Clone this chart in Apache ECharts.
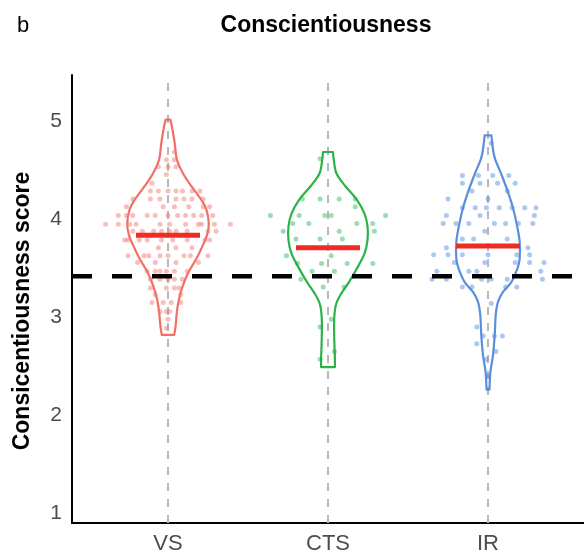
<!DOCTYPE html>
<html><head><meta charset="utf-8">
<script src="https://cdn.jsdelivr.net/npm/echarts@6/dist/echarts.min.js"></script>
<style>html,body{margin:0;padding:0;background:#fff}#c{width:584px;height:560px}</style>
</head><body><div id="c"></div>
<script>
// ---------- data ----------
const categories = ['VS', 'CTS', 'IR'];
const yTicks = [1, 2, 3, 4, 5];
const normValue = 3.42;               // black dashed reference line
const groupMeans = [3.84, 3.71, 3.73]; // red bars

// violin outlines: score levels and half-widths (in category units)
const vsViolinY = [5.02, 4.92, 4.78, 4.61, 4.47, 4.34, 4.20, 4.10, 3.96, 3.84, 3.74, 3.60, 3.47, 3.33, 3.19, 3.06, 2.92, 2.82];
const vsViolinW = [0.015, 0.028, 0.042, 0.056, 0.094, 0.146, 0.209, 0.240, 0.255, 0.244, 0.219, 0.178, 0.131, 0.094, 0.069, 0.056, 0.048, 0.039];
const ctsViolinY = [4.69, 4.61, 4.47, 4.34, 4.20, 4.06, 3.93, 3.79, 3.65, 3.50, 3.36, 3.23, 3.13, 2.99, 2.79, 2.58, 2.49];
const ctsViolinW = [0.031, 0.036, 0.053, 0.109, 0.181, 0.228, 0.247, 0.247, 0.228, 0.181, 0.131, 0.078, 0.050, 0.039, 0.039, 0.043, 0.043];
const irViolinY = [4.86, 4.76, 4.63, 4.46, 4.28, 4.12, 3.94, 3.77, 3.60, 3.50, 3.36, 3.26, 3.16, 3.02, 2.82, 2.61, 2.44, 2.26];
const irViolinW = [0.021, 0.028, 0.042, 0.084, 0.125, 0.156, 0.181, 0.198, 0.198, 0.184, 0.146, 0.094, 0.063, 0.048, 0.042, 0.031, 0.015, 0.009];

// individual scores (levels) and horizontal jitter of the points at each level
const vsLevels = [4.69, 4.61, 4.54, 4.46, 4.37, 4.29, 4.21, 4.13, 4.04, 3.95, 3.88, 3.79, 3.71, 3.63, 3.56, 3.47, 3.39, 3.30, 3.23, 3.15, 3.06, 2.98, 2.89];
const vsJitter = [
  [0.04], [-0.01, 0.04], [-0.06, 0.00, 0.05], [-0.01], [-0.10],
  [-0.11, -0.06, 0.00, 0.05, 0.09, 0.15, 0.20],
  [-0.22, -0.11, -0.05, 0.05, 0.10, 0.15, 0.22],
  [-0.26, -0.03, 0.04, 0.13, 0.22, 0.26],
  [-0.31, -0.26, -0.22, -0.13, -0.08, 0.00, 0.06, 0.11, 0.16, 0.21, 0.28],
  [-0.39, -0.31, -0.24, -0.20, -0.05, 0.01, 0.11, 0.19, 0.21, 0.29, 0.39],
  [-0.22, -0.16, -0.09, -0.04, 0.01, 0.05, 0.12, 0.25, 0.30],
  [-0.27, -0.25, -0.18, -0.13, -0.04, 0.03, 0.12, 0.23, 0.26],
  [-0.06, 0.05, 0.15],
  [-0.25, -0.15, -0.12, -0.05, 0.00, 0.10, 0.14, 0.25],
  [-0.19, -0.08, 0.05, 0.19],
  [-0.13, -0.08, -0.05, -0.01, 0.04, 0.12],
  [-0.11, -0.05, 0.00, 0.04, 0.09],
  [-0.11, -0.01, 0.04, 0.07],
  [-0.08, 0.08],
  [-0.10, -0.03, 0.02, 0.08],
  [-0.05, -0.01, 0.01],
  [0.00], [-0.01]
];
const ctsLevels = [4.62, 4.21, 4.13, 4.04, 3.96, 3.88, 3.80, 3.63, 3.55, 3.47, 3.39, 3.31, 2.98, 2.90, 2.65, 2.57];
const ctsJitter = [
  [-0.05], [-0.16, -0.05, 0.07, 0.17], [0.17],
  [-0.36, -0.18, -0.02, 0.02, 0.36],
  [-0.22, -0.12, 0.18, 0.28],
  [-0.28, 0.07, 0.29],
  [-0.20, -0.05, 0.09],
  [-0.26, 0.02],
  [-0.19, -0.04, 0.12, 0.28],
  [-0.10, 0.04], [-0.17], [-0.03, 0.10],
  [0.02], [-0.05], [0.04], [-0.05]
];
const irLevels = [4.78, 4.45, 4.37, 4.29, 4.21, 4.12, 4.04, 3.96, 3.88, 3.80, 3.71, 3.64, 3.56, 3.47, 3.39, 3.31, 3.14, 2.90, 2.81, 2.73, 2.65, 2.57, 2.40];
const irJitter = [
  [0.02],
  [-0.16, -0.06, 0.03, 0.13],
  [-0.16, -0.05, 0.06, 0.17],
  [-0.10, 0.12],
  [-0.25, 0.00],
  [-0.16, -0.08, -0.01, 0.07, 0.15, 0.23, 0.30],
  [-0.26, -0.05, 0.29],
  [-0.28, -0.20, -0.12, 0.04, 0.11, 0.19, 0.28],
  [-0.02],
  [-0.16, -0.09, 0.12],
  [-0.26, 0.25],
  [-0.34, -0.25, -0.16, 0.00, 0.18, 0.26],
  [-0.21, -0.02, 0.17, 0.26, 0.35],
  [-0.32, -0.12, -0.07, 0.33],
  [-0.35, -0.26, -0.04, 0.02, 0.12, 0.34],
  [-0.16, -0.10, 0.11, 0.18],
  [0.02], [-0.07], [-0.03, 0.04, 0.09], [-0.07], [0.05], [-0.01], [0.00]
];

// ---------- styles / layout ----------
const FONT = 'Liberation Sans, Arial, Helvetica, sans-serif';
const X_MIN = 0.4, X_MAX = 3.6, Y_MIN = 0.897, Y_MAX = 5.477;
const lineColors = ['#F26F66', '#2DB24A', '#5C8FDB'];
const pointColors = ['rgba(244,120,110,0.6)', 'rgba(20,180,70,0.55)', 'rgba(80,140,230,0.6)'];

const violins = [
  { y: vsViolinY, w: vsViolinW },
  { y: ctsViolinY, w: ctsViolinW },
  { y: irViolinY, w: irViolinW }
];
const pointSets = [[vsLevels, vsJitter], [ctsLevels, ctsJitter], [irLevels, irJitter]];

function buildPoints(g) {
  const [levels, jit] = pointSets[g];
  const out = [];
  levels.forEach((lv, i) => jit[i].forEach(j => out.push([g + 1 + j, lv])));
  return out;
}

// Catmull-Rom -> cubic bezier path segments through pixel points
function curveThrough(pts) {
  let d = '';
  for (let i = 0; i < pts.length - 1; i++) {
    const p0 = pts[Math.max(i - 1, 0)], p1 = pts[i], p2 = pts[i + 1], p3 = pts[Math.min(i + 2, pts.length - 1)];
    const c1x = p1[0] + (p2[0] - p0[0]) / 6, c1y = p1[1] + (p2[1] - p0[1]) / 6;
    const c2x = p2[0] - (p3[0] - p1[0]) / 6, c2y = p2[1] - (p3[1] - p1[1]) / 6;
    d += ` C ${c1x.toFixed(2)} ${c1y.toFixed(2)} ${c2x.toFixed(2)} ${c2y.toFixed(2)} ${p2[0].toFixed(2)} ${p2[1].toFixed(2)}`;
  }
  return d;
}

const chart = echarts.init(document.getElementById('c'), null, { renderer: 'canvas' });

const option = {
  animation: false,
  backgroundColor: '#ffffff',
  textStyle: { fontFamily: FONT },
  grid: { left: 72, right: 0, top: 75, bottom: 37, containLabel: false, outerBoundsMode: 'none' },
  xAxis: {
    type: 'value', min: X_MIN, max: X_MAX,
    axisLine: { show: true, onZero: false, lineStyle: { color: '#000', width: 2 } },
    axisTick: { show: false },
    splitLine: { show: false },
    axisLabel: {
      customValues: [1, 2, 3],
      formatter: v => categories[Math.round(v) - 1],
      fontSize: 22, color: '#4d4d4d', margin: 10, fontFamily: FONT
    }
  },
  yAxis: {
    type: 'value', min: Y_MIN, max: Y_MAX,
    axisLine: { show: true, onZero: false, lineStyle: { color: '#000', width: 2 } },
    axisTick: { show: false },
    splitLine: { show: false },
    axisLabel: {
      customValues: yTicks,
      fontSize: 21, color: '#4d4d4d', margin: 10, fontFamily: FONT
    }
  },
  graphic: [
    { type: 'text', x: 326, y: 26, style: { text: 'Conscientiousness', font: 'bold 23px ' + FONT, fill: '#000', align: 'center', verticalAlign: 'middle' } },
    { type: 'text', x: 17, y: 26, style: { text: 'b', font: '22px ' + FONT, fill: '#000', align: 'left', verticalAlign: 'middle' } },
    { type: 'text', x: 23, y: 311, rotation: Math.PI / 2, style: { text: 'Consicentiousness score', font: 'bold 23px ' + FONT, fill: '#000', align: 'center', verticalAlign: 'middle' } }
  ],
  series: [
    { // gray dashed category guide lines
      type: 'custom', z: 1, silent: true,
      data: [[1, 3], [2, 3], [3, 3]],
      renderItem: (params, api) => {
        const x = api.value(0);
        const p1 = api.coord([x, Y_MIN]), p2 = api.coord([x, Y_MAX]);
        return { type: 'line', shape: { x1: p1[0], y1: p1[1], x2: p2[0], y2: p2[1] },
          style: { stroke: '#b8b8b8', lineWidth: 2, lineDash: [8, 8] } };
      }
    },
    { // violins
      type: 'custom', z: 2, silent: true,
      data: [[1, 3], [2, 3], [3, 3]],
      renderItem: (params, api) => {
        const g = params.dataIndex;
        const v = violins[g];
        const cx = g + 1;
        const right = v.y.map((y, i) => api.coord([cx + v.w[i], y]));
        const left = v.y.map((y, i) => api.coord([cx - v.w[i], y])).reverse();
        const d = `M ${right[0][0].toFixed(2)} ${right[0][1].toFixed(2)}` + curveThrough(right) +
          ` L ${left[0][0].toFixed(2)} ${left[0][1].toFixed(2)}` + curveThrough(left) + ' Z';
        return { type: 'path', shape: { pathData: d },
          style: { stroke: lineColors[g], lineWidth: 2.2, fill: 'none', lineJoin: 'round' } };
      }
    },
    { type: 'scatter', z: 3, silent: true, symbolSize: 5, data: buildPoints(0), itemStyle: { color: pointColors[0] } },
    { type: 'scatter', z: 3, silent: true, symbolSize: 5, data: buildPoints(1), itemStyle: { color: pointColors[1] } },
    { type: 'scatter', z: 3, silent: true, symbolSize: 5, data: buildPoints(2), itemStyle: { color: pointColors[2] } },
    { // black dashed reference line
      type: 'custom', z: 4, silent: true,
      data: [[X_MIN, normValue]],
      renderItem: (params, api) => {
        const p1 = api.coord([X_MIN, api.value(1)]), p2 = api.coord([X_MAX, api.value(1)]);
        return { type: 'line', shape: { x1: p1[0], y1: p1[1], x2: p2[0], y2: p2[1] },
          style: { stroke: '#000', lineWidth: 4.5, lineDash: [20, 20] } };
      }
    },
    { // red mean bars
      type: 'custom', z: 5, silent: true,
      data: groupMeans.map((m, i) => [i + 1, m]),
      renderItem: (params, api) => {
        const x = api.value(0), m = api.value(1);
        const p1 = api.coord([x - 0.2, m]), p2 = api.coord([x + 0.2, m]);
        return { type: 'line', shape: { x1: p1[0], y1: p1[1], x2: p2[0], y2: p2[1] },
          style: { stroke: '#EE2C24', lineWidth: 5 } };
      }
    }
  ]
};
chart.setOption(option);
</script>
</body></html>
